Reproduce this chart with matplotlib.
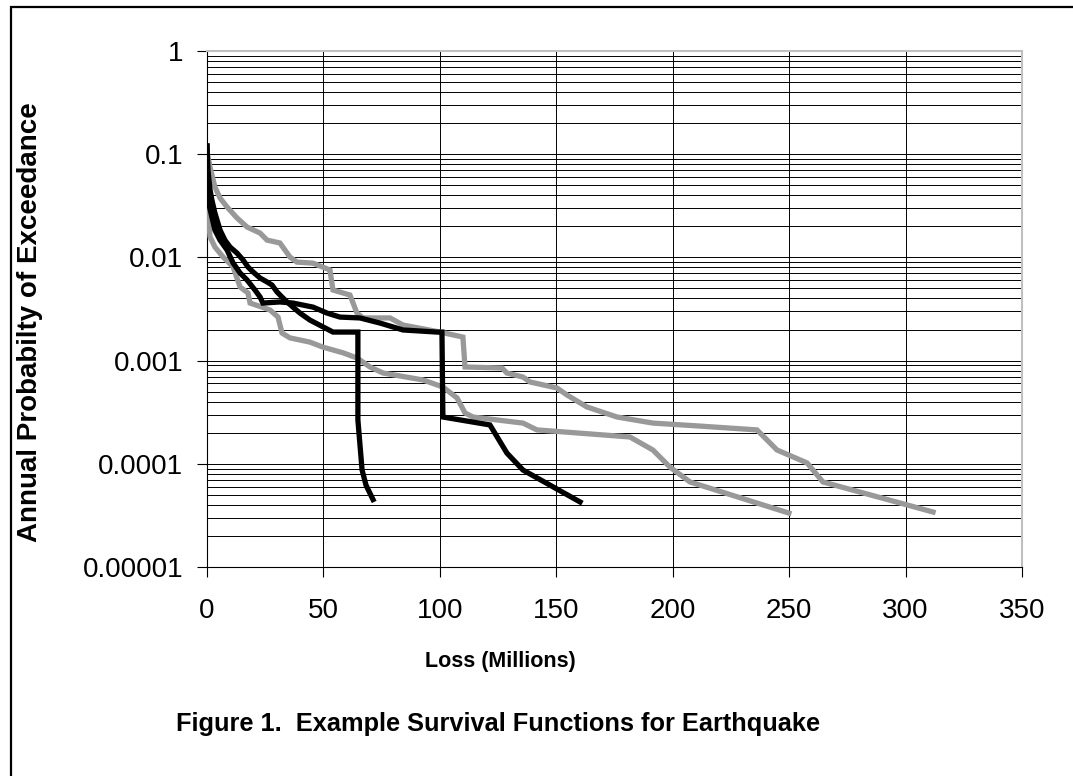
import matplotlib.pyplot as plt
from matplotlib.ticker import LogLocator, FixedLocator, NullFormatter
from matplotlib.patches import Rectangle

plt.rcParams['font.family'] = ['Liberation Sans', 'DejaVu Sans']

# gray curve ending near 312
g1_x = [0, 1.3, 3.4, 5.6, 8.6, 12.9, 17.2, 22.8, 25.8, 31.3, 35.6, 38.6, 45.5, 52.8, 54.1,
        61.4, 64.4, 67.0, 78.6, 84.2, 100.1, 109.9, 110.8, 126.7, 128.8, 135.7, 138.7,
        150.3, 154.6, 163.2, 176.1, 191.5, 211.7, 236.2, 244.8, 257.7, 264.5, 311.8]
g1_y = [0.105, 0.075, 0.048, 0.0376, 0.0308, 0.0241, 0.0197, 0.0172, 0.0147, 0.0138, 0.0101,
        0.0090, 0.0088, 0.00755, 0.00483, 0.00432, 0.00289, 0.00259, 0.00259, 0.00221,
        0.00189, 0.00169, 0.000867, 0.000847, 0.000758, 0.000693, 0.000621, 0.000543,
        0.000464, 0.000355, 0.000284, 0.000248, 0.000232, 0.000213, 0.000136, 0.000102,
        0.0000667, 0.0000341]

# gray curve ending near 250
g2_x = [0, 0.2, 0.4, 1.3, 3.4, 6.9, 11.2, 14.2, 17.6, 18.5, 23.6, 27.1, 30.5, 32.2, 35.6,
        44.2, 49.8, 58.4, 64.4, 70.0, 75.6, 92.8, 101.3, 107.4, 110.8, 114.2, 135.7, 141.7,
        181.6, 191.5, 198.8, 207.4, 249.9]
g2_y = [0.088, 0.045, 0.027, 0.0158, 0.0126, 0.0101, 0.0081, 0.00517, 0.00452, 0.00361,
        0.00330, 0.00309, 0.00264, 0.00185, 0.00166, 0.00151, 0.00135, 0.00119, 0.00106,
        0.000867, 0.000758, 0.000649, 0.000555, 0.000434, 0.000311, 0.000284, 0.000248,
        0.000213, 0.000182, 0.000136, 0.000093, 0.0000667, 0.0000333]

# black curve ending near 72
b1_x = [0, 0.4, 1.3, 2.1, 3.4, 5.6, 7.7, 9.9, 12.9, 15.5, 17.6, 19.8, 22.8, 25.8, 27.9,
        30.1, 32.2, 34.4, 36.9, 39.9, 44.2, 54.1, 64.8, 64.8, 65.7, 66.6, 68.3, 71.3]
b1_y = [0.120, 0.0703, 0.0450, 0.0360, 0.0269, 0.0184, 0.0147, 0.0126, 0.0110, 0.00944,
        0.00807, 0.00722, 0.00631, 0.00578, 0.00540, 0.00462, 0.00413, 0.00370, 0.00330,
        0.00289, 0.00247, 0.00189, 0.00189, 0.000266, 0.000152, 0.000087, 0.000062, 0.000045]

# black curve ending near 160
b2_x = [0, 0.05, 0.4, 2.1, 3.4, 5.6, 8.6, 11.2, 14.2, 17.2, 20.6, 22.8, 24.0, 31.3, 36.9,
        45.5, 51.5, 57.1, 65.7, 74.3, 84.2, 98.8, 100.9, 101.3, 121.5, 128.8, 135.7, 160.2]
b2_y = [0.120, 0.063, 0.036, 0.0246, 0.0184, 0.0147, 0.0118, 0.00883, 0.00706, 0.00604,
        0.00483, 0.00413, 0.00361, 0.00370, 0.00361, 0.00330, 0.00289, 0.00264, 0.00259,
        0.00231, 0.00198, 0.00189, 0.00189, 0.000284, 0.000238, 0.000127, 0.000087, 0.0000427]

x_ticks = [0, 50, 100, 150, 200, 250, 300, 350]
y_ticks = [1e-5, 1e-4, 1e-3, 1e-2, 1e-1, 1]
y_labels = ['0.00001', '0.0001', '0.001', '0.01', '0.1', '1']

fig = plt.figure(figsize=(10.73, 7.76), dpi=100)
ax = fig.add_axes([207 / 1073, 1 - 567 / 776, 815 / 1073, 516 / 776])

ax.plot(g1_x, g1_y, color='#999999', lw=3.8, solid_joinstyle='miter', zorder=3)
ax.plot(g2_x, g2_y, color='#999999', lw=3.8, solid_joinstyle='miter', zorder=3)
ax.plot(b1_x, b1_y, color='black', lw=3.8, solid_joinstyle='miter', zorder=4)
ax.plot(b2_x, b2_y, color='black', lw=3.8, solid_joinstyle='miter', zorder=4)

ax.set_yscale('log')
ax.set_xlim(0, 350)
ax.set_ylim(1e-5, 1)
ax.xaxis.set_major_locator(FixedLocator(x_ticks))
ax.set_xticklabels([str(v) for v in x_ticks])
ax.yaxis.set_major_locator(FixedLocator(y_ticks))
ax.set_yticklabels(y_labels)
ax.yaxis.set_minor_locator(LogLocator(base=10, subs=range(2, 10), numticks=20))
ax.yaxis.set_minor_formatter(NullFormatter())
ax.tick_params(axis='y', which='minor', length=0)
ax.tick_params(axis='both', which='major', direction='out', length=7, width=0.8,
               labelsize=20, colors='black')
ax.tick_params(axis='x', pad=15)
ax.tick_params(axis='y', pad=10)

ax.grid(True, which='both', axis='y', color='black', lw=0.7)
ax.grid(True, which='major', axis='x', color='black', lw=0.7)
ax.set_axisbelow(True)

for s in ['top', 'right']:
    ax.spines[s].set_color('#c0c0c0')
    ax.spines[s].set_linewidth(1.5)
for s in ['left', 'bottom']:
    ax.spines[s].set_color('black')
    ax.spines[s].set_linewidth(0.8)

fig.text(30 / 1073, 1 - 322 / 776, 'Annual Probabilty of Exceedance', rotation=90,
         ha='center', va='center', fontsize=20, fontweight='bold')
fig.text(500 / 1073, 1 - 662 / 776, 'Loss (Millions)', ha='center', va='center',
         fontsize=15.5, fontweight='bold')
fig.text(176 / 1073, 1 - 724 / 776, 'Figure 1.  Example Survival Functions for Earthquake',
         ha='left', va='center', fontsize=18.3, fontweight='bold')

fig.patches.append(Rectangle((11 / 1073, -0.2), 1.2, 1 - 7 / 776 + 0.2, transform=fig.transFigure,
                             fill=False, edgecolor='black', lw=1.6))

fig.savefig('out.png', dpi=100)
